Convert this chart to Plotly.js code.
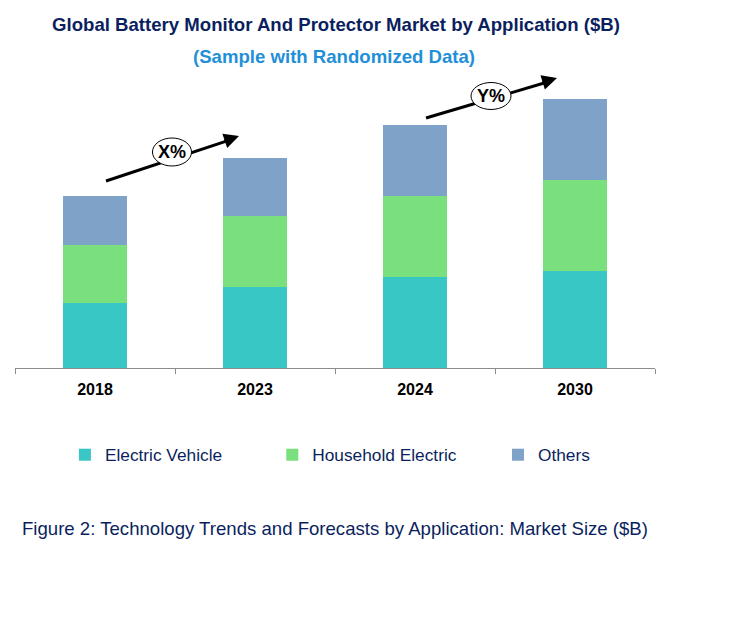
<!DOCTYPE html>
<html>
<head>
<meta charset="utf-8">
<script src="https://cdn.plot.ly/plotly-3.0.1.min.js"></script>
<style>
  html, body { margin: 0; padding: 0; background: #ffffff; }
  #chart { width: 741px; height: 621px; }
</style>
</head>
<body>
<div id="chart"></div>
<script>
// ---- data ($B) ----
var years = ["2018", "2023", "2024", "2030"];
var electricVehicle = [6.5, 8.1, 9.1, 9.7];
var householdElectric = [5.8, 7.1, 8.1, 9.1];
var others = [4.9, 5.8, 7.1, 8.1];
var seriesNames = ["Electric Vehicle", "Household Electric", "Others"];
var seriesColors = ["#38C7C5", "#7AE07E", "#7FA3C8"];
var growthLabels = ["X%", "Y%"];

var navy = "#0B1F5E";
var font = "Liberation Sans, Arial, sans-serif";

function barTrace(name, values, color, legendId) {
  return {
    type: "bar",
    name: name,
    x: years,
    y: values,
    marker: { color: color, line: { width: 0 } },
    legend: legendId,
    hoverinfo: "x+y+name"
  };
}

var data = [
  barTrace(seriesNames[0], electricVehicle, seriesColors[0], "legend"),
  barTrace(seriesNames[1], householdElectric, seriesColors[1], "legend2"),
  barTrace(seriesNames[2], others, seriesColors[2], "legend3")
];

// plot area: x 15..655, y 80..368 (px)
function legendAt(xPaper) {
  return {
    x: xPaper, xanchor: "left",
    y: -0.302, yanchor: "middle",
    orientation: "h",
    bgcolor: "rgba(0,0,0,0)",
    borderwidth: 0,
    font: { family: font, size: 17.3, color: navy },
    itemclick: false, itemdoubleclick: false
  };
}

var layout = {
  width: 741,
  height: 621,
  paper_bgcolor: "#ffffff",
  plot_bgcolor: "#ffffff",
  margin: { l: 15, r: 86, t: 80, b: 253, pad: 0 },
  barmode: "stack",
  bargap: 0.594,
  showlegend: true,
  title: {
    text: "Global Battery Monitor And Protector Market by Application ($B)",
    font: { family: font, size: 18.6, color: navy, weight: "bold" },
    x: 0.4534, xanchor: "center",
    yref: "container", y: 0.961, yanchor: "middle"
  },
  xaxis: {
    type: "category",
    showgrid: false,
    zeroline: false,
    showline: true,
    linecolor: "#8c8c8c",
    linewidth: 1,
    ticks: "outside",
    tickson: "boundaries",
    ticklen: 5,
    tickcolor: "#8c8c8c",
    ticklabelstandoff: 7,
    tickfont: { family: font, size: 16, color: "#000000", weight: "bold" },
    fixedrange: true
  },
  yaxis: {
    range: [0, 28.8],
    visible: false,
    showgrid: false,
    zeroline: false,
    fixedrange: true
  },
  legend: legendAt(0.078),
  legend2: legendAt(0.402),
  legend3: legendAt(0.7547),
  shapes: [
    // arrow shafts
    { type: "line", xref: "paper", yref: "paper",
      x0: 0.1422, y0: 0.6493, x1: 0.335, y1: 0.7910,
      line: { color: "#000000", width: 3 }, layer: "above" },
    { type: "line", xref: "paper", yref: "paper",
      x0: 0.6422, y0: 0.8681, x1: 0.832, y1: 0.9930,
      line: { color: "#000000", width: 3 }, layer: "above" },
    // ellipses
    { type: "circle", xref: "paper", yref: "paper",
      x0: 0.2148, x1: 0.2758, y0: 0.7014, y1: 0.7986,
      fillcolor: "#ffffff", line: { color: "#000000", width: 1 }, layer: "above" },
    { type: "circle", xref: "paper", yref: "paper",
      x0: 0.7125, x1: 0.7750, y0: 0.8976, y1: 0.9913,
      fillcolor: "#ffffff", line: { color: "#000000", width: 1 }, layer: "above" }
  ],
  annotations: [
    { xref: "paper", yref: "paper", x: 0.4984, y: 1.0799,
      text: "(Sample with Randomized Data)", showarrow: false,
      xanchor: "center", yanchor: "middle",
      font: { family: font, size: 18.6, color: "#1F8FD8", weight: "bold" } },
    { xref: "paper", yref: "paper", x: 0.2453, y: 0.75,
      text: growthLabels[0], showarrow: false, xanchor: "center", yanchor: "middle",
      font: { family: font, size: 18, color: "#000000", weight: "bold" } },
    { xref: "paper", yref: "paper", x: 0.7438, y: 0.9444,
      text: growthLabels[1], showarrow: false, xanchor: "center", yanchor: "middle",
      font: { family: font, size: 18, color: "#000000", weight: "bold" } },
    // arrow heads
    { xref: "paper", yref: "paper", x: 0.35, y: 0.8056, text: "",
      showarrow: true, axref: "pixel", ayref: "pixel", ax: -16, ay: 5.4,
      arrowhead: 2, arrowsize: 1, arrowwidth: 3, arrowcolor: "#000000", standoff: 0 },
    { xref: "paper", yref: "paper", x: 0.8469, y: 1.0069, text: "",
      showarrow: true, axref: "pixel", ayref: "pixel", ax: -16, ay: 4.9,
      arrowhead: 2, arrowsize: 1, arrowwidth: 3, arrowcolor: "#000000", standoff: 0 },
    { xref: "paper", yref: "paper", x: 0.0078, y: -0.5556,
      text: "Figure 2: Technology Trends and Forecasts by Application: Market Size ($B)",
      showarrow: false, xanchor: "left", yanchor: "middle",
      font: { family: font, size: 18.6, color: navy } }
  ]
};

Plotly.newPlot("chart", data, layout, { displayModeBar: false, staticPlot: true });
</script>
</body>
</html>
